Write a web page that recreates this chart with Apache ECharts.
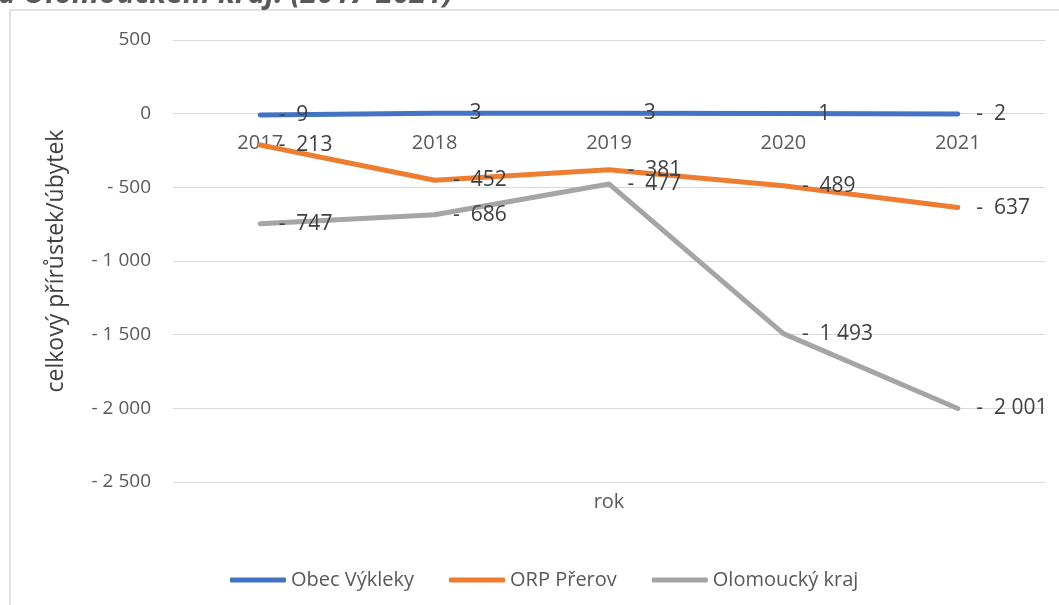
<!DOCTYPE html>
<html>
<head>
<meta charset="utf-8">
<script src="https://cdn.jsdelivr.net/npm/echarts@6/dist/echarts.min.js"></script>
<style>
html,body{margin:0;padding:0;background:#fff;}
#chart{width:1059px;height:605px;}
</style>
</head>
<body>
<div id="chart"></div>
<script>
var years = ['2017', '2018', '2019', '2020', '2021'];
var obecVykleky = [-9, 3, 3, 1, -2];
var orpPrerov = [-213, -452, -381, -489, -637];
var olomouckyKraj = [-747, -686, -477, -1493, -2001];
var seriesNames = ['Obec Výkleky', 'ORP Přerov', 'Olomoucký kraj'];
var yTicks = {min: -2500, max: 500, interval: 500};

var FONT = '"Open Sans", "Noto Sans", sans-serif';

var GRID = {left: 173, right: 14, top: 40, bottom: 123};
var gridHeight = 605 - GRID.top - GRID.bottom;
// move the category axis up to the zero line of the value axis
var zeroOffset = -gridHeight * (0 - yTicks.min) / (yTicks.max - yTicks.min);

function groupDigits(n) {
  return String(n).replace(/\B(?=(\d{3})+(?!\d))/g, ' ');
}
function axisFmt(v) {
  if (v < 0) return '- ' + groupDigits(-v);
  return groupDigits(v);
}
function labelFmt(p) {
  var v = p.value;
  if (v < 0) return '-  ' + groupDigits(-v);
  return '   ' + groupDigits(v);
}

var chart = echarts.init(document.getElementById('chart'), null, {renderer: 'canvas'});

function lineSeries(name, data, color) {
  return {
    name: name,
    type: 'line',
    data: data,
    symbol: 'circle',
    symbolSize: 1,
    showSymbol: true,
    lineStyle: {color: color, width: 5, cap: 'round'},
    itemStyle: {color: color},
    label: {
      show: true,
      position: 'right',
      distance: 18,
      formatter: labelFmt,
      color: '#404040',
      fontSize: 21,
      fontFamily: FONT
    },
    animation: false
  };
}

chart.setOption({
  backgroundColor: '#ffffff',
  animation: false,
  graphic: [
    {
      type: 'rect',
      shape: {x: 10, y: 10, width: 1060, height: 610},
      style: {fill: 'none', stroke: '#d9d9d9', lineWidth: 1.5},
      z: -1
    },
    {
      type: 'text',
      left: -2,
      top: -21,
      style: {
        text: 'a Olomouckém kraj: (2017-2021)',
        font: 'italic bold 30px ' + FONT,
        fill: '#595959'
      }
    }
  ],
  grid: {left: GRID.left, right: GRID.right, top: GRID.top, bottom: GRID.bottom, containLabel: false, outerBoundsMode: 'none'},
  legend: {
    data: seriesNames,
    left: 225,
    top: 565,
    icon: 'roundRect',
    itemWidth: 56,
    itemHeight: 5,
    itemGap: 35,
    textStyle: {color: '#595959', fontSize: 20, fontFamily: FONT}
  },
  xAxis: {
    type: 'category',
    data: years,
    boundaryGap: true,
    position: 'bottom',
    offset: zeroOffset,
    name: 'rok',
    nameLocation: 'middle',
    nameGap: 379,
    nameTextStyle: {color: '#595959', fontSize: 20, fontFamily: FONT},
    axisLine: {show: true, onZero: false, lineStyle: {color: '#d9d9d9', width: 1}},
    axisTick: {show: false},
    axisLabel: {color: '#595959', fontSize: 20, fontFamily: FONT, margin: 20}
  },
  yAxis: {
    type: 'value',
    min: yTicks.min,
    max: yTicks.max,
    interval: yTicks.interval,
    name: 'celkový přírůstek/úbytek',
    nameLocation: 'middle',
    nameGap: 105,
    nameTextStyle: {color: '#404040', fontSize: 23, fontFamily: FONT},
    axisLine: {show: false},
    axisTick: {show: false},
    axisLabel: {color: '#595959', fontSize: 19, fontFamily: FONT, margin: 22, formatter: axisFmt},
    splitLine: {lineStyle: {color: '#d9d9d9', width: 1}}
  },
  series: [
    lineSeries(seriesNames[0], obecVykleky, '#4472C4'),
    lineSeries(seriesNames[1], orpPrerov, '#ED7D31'),
    lineSeries(seriesNames[2], olomouckyKraj, '#A5A5A5')
  ]
});
</script>
</body>
</html>
